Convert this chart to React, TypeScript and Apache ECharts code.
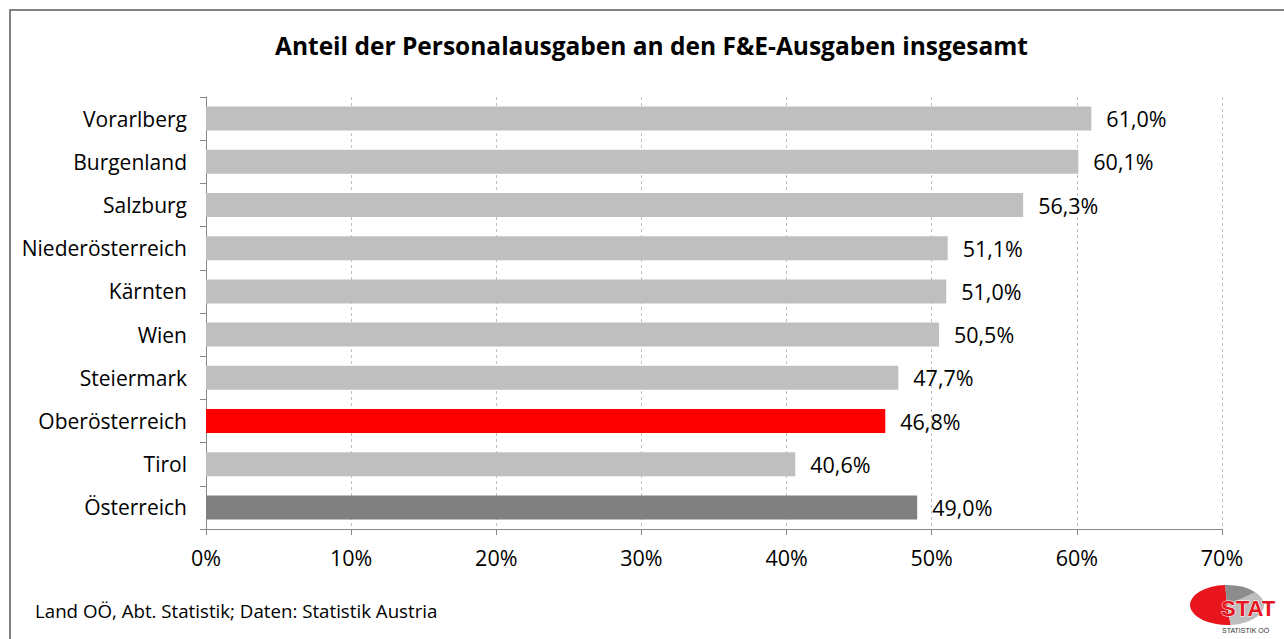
import React, { useEffect, useRef } from "react";
import * as echarts from "echarts";

const categories = [
  "Vorarlberg",
  "Burgenland",
  "Salzburg",
  "Niederösterreich",
  "Kärnten",
  "Wien",
  "Steiermark",
  "Oberösterreich",
  "Tirol",
  "Österreich",
];
const values = [61.0, 60.1, 56.3, 51.1, 51.0, 50.5, 47.7, 46.8, 40.6, 49.0];
const barColors = [
  "#BFBFBF", "#BFBFBF", "#BFBFBF", "#BFBFBF", "#BFBFBF",
  "#BFBFBF", "#BFBFBF", "#FF0000", "#BFBFBF", "#808080",
];
const title = "Anteil der Personalausgaben an den F&E-Ausgaben insgesamt";
const source = "Land OÖ, Abt. Statistik; Daten: Statistik Austria";

const FONT = "'Open Sans', sans-serif";

export default function App() {
  const ref = useRef<HTMLDivElement>(null);
  useEffect(() => {
    if (!ref.current) return;
    const chart = echarts.init(ref.current, null, { renderer: "svg" });
    chart.setOption({
      animation: false,
      backgroundColor: "#ffffff",
      textStyle: { fontFamily: FONT },
      title: {
        text: title,
        left: 275,
        top: 33,
        padding: 0,
        textStyle: { fontSize: 24.5, fontWeight: "bold", color: "#000", fontFamily: FONT },
      },
      grid: { left: 206, right: 62, top: 97, bottom: 110, containLabel: false },
      xAxis: {
        type: "value",
        min: 0,
        max: 70,
        interval: 10,
        axisLabel: {
          formatter: (v: number) => `${v}%`,
          fontSize: 21.5,
          color: "#000",
          margin: 17,
          fontFamily: FONT,
        },
        axisLine: { show: true, lineStyle: { color: "#868686", width: 1 } },
        axisTick: { show: true, length: 6, lineStyle: { color: "#868686" } },
        splitLine: { show: true, lineStyle: { color: "#BFBFBF", type: [3, 3], width: 1 } },
      },
      yAxis: {
        type: "category",
        inverse: true,
        data: categories,
        axisLabel: { fontSize: 21, color: "#000", margin: 19, fontFamily: FONT },
        axisLine: { show: true, lineStyle: { color: "#868686", width: 1 } },
        axisTick: { show: true, length: 6, lineStyle: { color: "#868686" } },
        splitLine: { show: false },
      },
      series: [
        {
          type: "bar",
          data: values.map((v, i) => ({ value: v, itemStyle: { color: barColors[i] } })),
          barWidth: 24,
          label: {
            show: true,
            position: "right",
            distance: 15,
            fontSize: 21.5,
            color: "#000",
            fontFamily: FONT,
            formatter: (p: any) => `${p.value.toFixed(1).replace(".", ",")}%`,
          },
        },
      ],
      graphic: [
        {
          type: "rect",
          shape: { x: 10, y: 10, width: 1400, height: 800 },
          style: { fill: "none", stroke: "#595959", lineWidth: 1.5 },
          silent: true,
        },
        {
          type: "text",
          left: 35,
          top: 601,
          style: { text: source, fontSize: 18.7, fill: "#000", fontFamily: FONT },
        },
        {
          type: "group",
          x: 1227,
          y: 605,
          children: [
            {
              type: "group",
              scaleY: 0.54,
              children: [
                {
                  type: "sector",
                  shape: { cx: 0, cy: 0, r: 37, startAngle: -Math.PI / 2 - 0.05, endAngle: Math.PI / 2 - 0.1, clockwise: false },
                  style: { fill: "#E8141E" },
                },
                {
                  type: "sector",
                  shape: { cx: 0, cy: 0, r: 37, startAngle: -0.7, endAngle: Math.PI / 2 - 0.1 },
                  style: { fill: "#BDBDBD" },
                },
                {
                  type: "sector",
                  shape: { cx: 0, cy: 0, r: 37, startAngle: -Math.PI / 2 - 0.05, endAngle: -0.7 },
                  style: { fill: "#8C8C8C" },
                },
              ],
            },
            {
              type: "text",
              x: -6,
              y: -8,
              style: {
                text: "STAT",
                fontSize: 22,
                fontWeight: "bold",
                fill: "#E8141E",
                stroke: "#ffffff",
                lineWidth: 1,
                fontFamily: "'Liberation Sans', Arial, sans-serif",
              },
            },
            {
              type: "text",
              x: -5,
              y: 22,
              style: {
                text: "STATISTIK OÖ",
                fontSize: 7,
                fill: "#333",
                fontFamily: "'Liberation Sans', Arial, sans-serif",
              },
            },
          ],
        },
      ],
    });
    return () => chart.dispose();
  }, []);
  return (
    <div
      ref={ref}
      style={{ position: "absolute", left: 0, top: 0, width: 1284, height: 639 }}
    />
  );
}
